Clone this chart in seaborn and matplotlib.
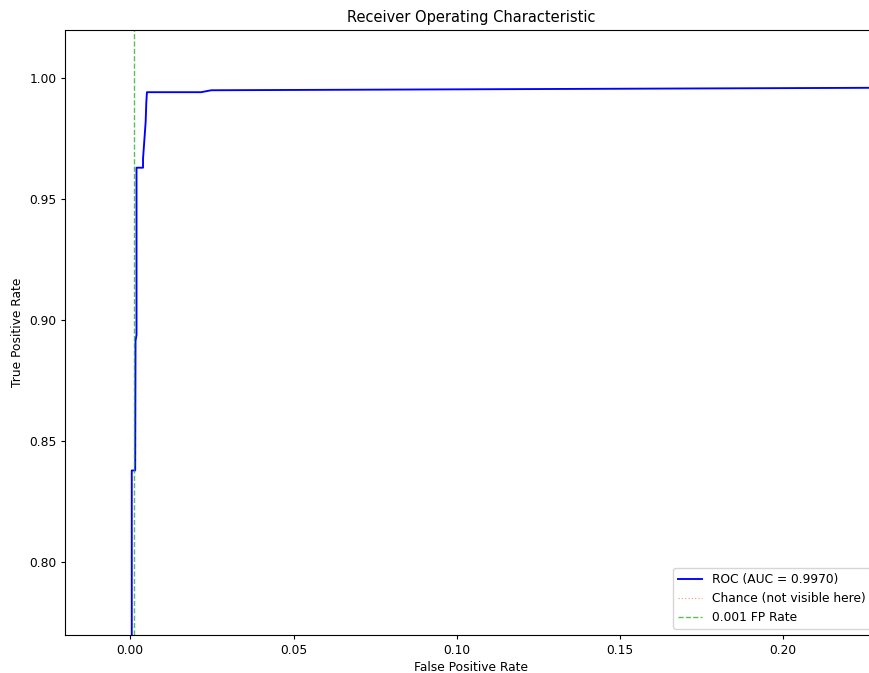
import seaborn as sns
import pandas as pd
import matplotlib
matplotlib.use('Agg')
import matplotlib.pyplot as plt

# ROC curve points
fpr = [0.0, 0.00045, 0.00045, 0.0015, 0.0016, 0.0019, 0.0019, 0.0039, 0.0039,
       0.0047, 0.0049, 0.0051, 0.0217, 0.0248, 1.0]
tpr = [0.0, 0.60, 0.838, 0.838, 0.8915, 0.894, 0.9631, 0.9631, 0.9668,
       0.982, 0.990, 0.9943, 0.9943, 0.9951, 1.0]
auc_value = 0.9970
fp_threshold = 0.001

df = pd.DataFrame({'fpr': fpr, 'tpr': tpr})

# the reference looks like default styling rendered slightly smaller
plt.rcParams['font.size'] = 8.8
plt.rcParams['xtick.major.size'] = 3.1
plt.rcParams['ytick.major.size'] = 3.1
plt.rcParams['xtick.major.pad'] = 3.1
plt.rcParams['ytick.major.pad'] = 3.1
plt.rcParams['axes.labelpad'] = 3.5

fig = plt.figure(figsize=(8.69, 6.73), dpi=100)
ax = fig.add_axes([65 / 869, 38 / 673, 812 / 869, 605 / 673])

sns.lineplot(data=df, x='fpr', y='tpr', sort=False, estimator=None, ax=ax,
             color='blue', linewidth=1.35, label=f'ROC (AUC = {auc_value:.4f})')
ax.plot([0, 1], [0, 1], color='red', linestyle=':', alpha=0.4, linewidth=0.9,
        label='Chance (not visible here)')
ax.axvline(fp_threshold, color='#22aa22', linestyle='--', alpha=0.75, linewidth=1.0,
           label=f'{fp_threshold} FP Rate')

ax.set_xlim(-0.02, 0.2287)
ax.set_ylim(0.77, 1.02)
ax.set_xticks([0.0, 0.05, 0.10, 0.15, 0.20])
ax.set_yticks([0.80, 0.85, 0.90, 0.95, 1.00])
ax.set_xticklabels(['0.00', '0.05', '0.10', '0.15', '0.20'])
ax.set_yticklabels(['0.80', '0.85', '0.90', '0.95', '1.00'])
ax.set_xlabel('False Positive Rate')
ax.set_ylabel('True Positive Rate')
ax.set_title('Receiver Operating Characteristic', fontsize=10.5, pad=5.5)
ax.legend(loc='lower right', fontsize=8.8)

fig.savefig('out.png', dpi=100)
